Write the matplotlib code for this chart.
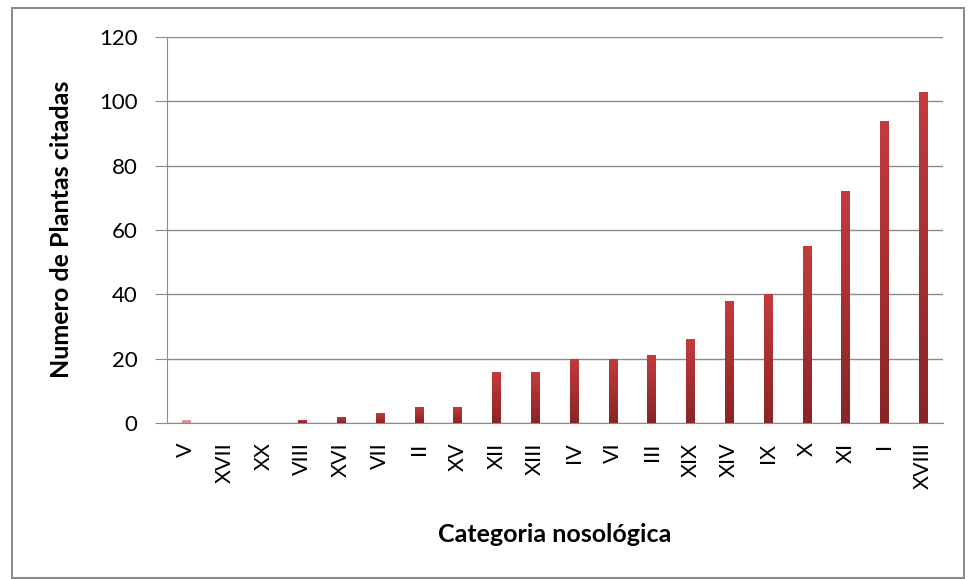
import matplotlib

matplotlib.use("Agg")

import matplotlib.pyplot as plt
import numpy as np
from matplotlib.colors import LinearSegmentedColormap
from matplotlib.patches import Rectangle

categories = ["V", "XVII", "XX", "VIII", "XVI", "VII", "II", "XV", "XII", "XIII",
              "IV", "VI", "III", "XIX", "XIV", "IX", "X", "XI", "I", "XVIII"]
plants = [1, 0, 0, 1, 2, 3, 5, 5, 16, 16, 20, 20, 21, 26, 38, 40, 55, 72, 94, 103]
y_ticks = [0, 20, 40, 60, 80, 100, 120]

plt.rcParams["font.family"] = ["Lato", "DejaVu Sans"]

fig = plt.figure(figsize=(9.68, 5.79), dpi=100)
ax = fig.add_axes([166.5 / 968, 1 - 423 / 579, 776 / 968, 386 / 579])

x = np.arange(len(categories))
bars = ax.bar(x, plants, width=0.21, color="#a82c2e", zorder=3)

# vertical gradient inside each bar (lighter on top, darker at the base)
red_grad = LinearSegmentedColormap.from_list("red_grad", ["#8a2426", "#c43b3d"])
pink_grad = LinearSegmentedColormap.from_list("pink_grad", ["#d58a8a", "#e8a4a4"])
grad = np.linspace(0, 1, 64).reshape(-1, 1)
for i, bar in enumerate(bars):
    h = bar.get_height()
    if h <= 0:
        continue
    bar.set_facecolor("none")
    bx = bar.get_x()
    img = ax.imshow(grad, cmap=pink_grad if i == 0 else red_grad, origin="lower",
                    extent=(bx, bx + bar.get_width(), 0, h), aspect="auto", zorder=3)
    img.set_clip_path(bar)

ax.set_xlim(-0.5, len(categories) - 0.5)
ax.set_ylim(0, 120)
ax.set_yticks(y_ticks)
ax.grid(axis="y", color="#8c8c8c", linewidth=1, zorder=0)
ax.set_xticks(x)
ax.set_xticklabels(categories, rotation=90, va="top", ha="center")
ax.tick_params(axis="x", length=0, pad=14, labelsize=15.5)
ax.tick_params(axis="y", length=9, color="#8c8c8c", labelsize=16, pad=12)

for side in ["top", "right"]:
    ax.spines[side].set_visible(False)
for side in ["left", "bottom"]:
    ax.spines[side].set_color("#8c8c8c")

fig.text(62 / 968, 1 - 229 / 579, "Numero de Plantas citadas", fontsize=18,
         fontweight="bold", rotation=90, ha="center", va="center")
fig.text(555 / 968, 1 - 535 / 579, "Categoria nosológica", fontsize=18,
         fontweight="bold", ha="center", va="center")

fig.patches.append(Rectangle((12 / 968, 0.002), 952 / 968, 1 - 8 / 579 - 0.002,
                             transform=fig.transFigure, fill=False,
                             edgecolor="#8c8c8c", linewidth=1.5))

fig.savefig("out.png", dpi=100)
